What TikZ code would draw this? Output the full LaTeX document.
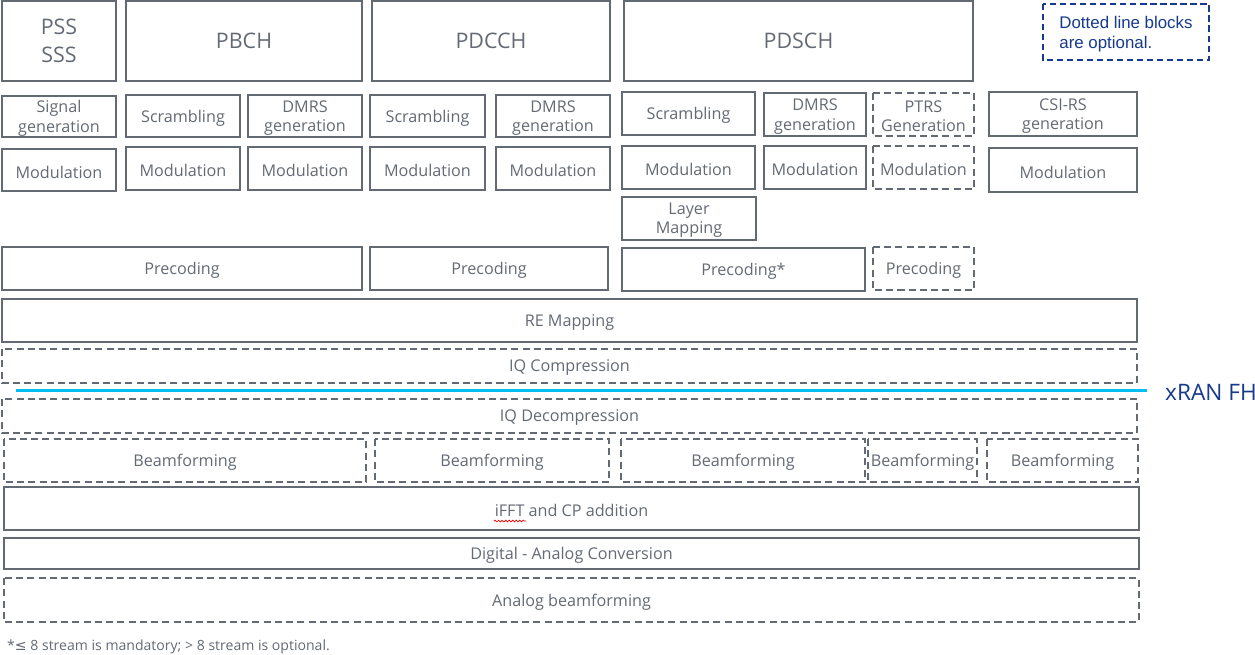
\documentclass[tikz,border=0pt]{standalone}
\usepackage{fontspec}
\setmainfont{Open Sans}
\newfontfamily\legendFont{Liberation Sans}
\newfontfamily\symbolFont{DejaVu Sans}
\usetikzlibrary{decorations.pathmorphing}
\definecolor{blockColor}{RGB}{99,106,116}
\definecolor{legendColor}{RGB}{22,58,140}
\definecolor{fhColor}{RGB}{0,190,240}
\tikzstyle{diagram} = [x = .02cm, y = -.02cm]
\tikzstyle{blockStyle} = [color=blockColor, line width=1.1pt]
\tikzstyle{blockMaybeStyle} = [blockStyle, dash pattern=on 4pt off 2.4pt]
\tikzstyle{blockText} = [text=blockColor, font=\fontsize{9.2}{11}\selectfont, align=center, midway, yshift=-1.1pt]
\tikzstyle{channelText} = [text=blockColor, font=\fontsize{12.2}{16}\selectfont, align=center, midway]
\tikzstyle{legendStyle} = [color=legendColor, line width=1.1pt, dash pattern=on 3.5pt off 2.2pt]
\tikzstyle{legendText} = [text=legendColor, font=\legendFont\fontsize{9.6}{11.3}\selectfont, align=left, midway, yshift=-1.4pt]
\newcommand{\block}[6]{\draw [blockStyle] (#2, #3) rectangle (#4, #5) node [blockText] (#1) {#6};}
\newcommand{\blockMaybe}[6]{\draw [blockMaybeStyle] (#2, #3) rectangle (#4, #5) node [blockText] (#1) {#6};}
\newcommand{\channel}[6]{\draw [blockStyle] (#2, #3) rectangle (#4, #5) node [channelText] (#1) {#6};}

\begin{document}
\begin{tikzpicture}[diagram]
  \useasboundingbox (0, 0) rectangle (1255, 654);
  % channels
  \channel{pss}{2}{1}{116}{81}{PSS\\SSS}
  \channel{pbch}{126}{1}{362}{81}{PBCH}
  \channel{pdcch}{372}{1}{610}{81}{PDCCH}
  \channel{pdsch}{624}{1}{973}{81}{PDSCH}
  \draw [legendStyle] (1043, 4) rectangle (1209, 60) node [legendText] (legend) {Dotted line blocks\\are optional.};

  % generation row
  \block{sigGen}{2}{96}{116}{137}{Signal\\generation}
  \block{pbchScr}{126}{95}{240}{137}{Scrambling}
  \block{pbchDmrs}{248}{95}{362}{137}{DMRS\\generation}
  \block{pdcchScr}{370}{95}{485}{137}{Scrambling}
  \block{pdcchDmrs}{496}{95}{610}{137}{DMRS\\generation}
  \block{pdschScr}{622}{92}{755}{135}{Scrambling}
  \block{pdschDmrs}{764}{93}{866}{136}{DMRS\\generation}
  \blockMaybe{ptrsGen}{873}{93}{974}{136}{PTRS\\Generation}
  \block{csiGen}{989}{92}{1137}{136}{CSI-RS\\generation}

  % modulation row
  \block{pssMod}{2}{149}{116}{191}{Modulation}
  \block{pbchMod}{126}{147}{240}{190}{Modulation}
  \block{pbchDmrsMod}{248}{147}{362}{190}{Modulation}
  \block{pdcchMod}{370}{147}{485}{190}{Modulation}
  \block{pdcchDmrsMod}{496}{147}{610}{190}{Modulation}
  \block{pdschMod}{622}{146}{755}{189}{Modulation}
  \block{pdschDmrsMod}{764}{146}{866}{189}{Modulation}
  \blockMaybe{ptrsMod}{873}{146}{974}{189}{Modulation}
  \block{csiMod}{989}{148}{1137}{192}{Modulation}

  \block{layerMap}{622}{197}{756}{240}{Layer\\Mapping}

  % precoding row
  \block{precA}{2}{247}{362}{290}{Precoding}
  \block{precB}{370}{247}{608}{290}{Precoding}
  \block{precC}{622}{248}{865}{291}{Precoding*}
  \blockMaybe{precD}{873}{247}{974}{290}{Precoding}

  \block{reMap}{2}{299}{1137}{342}{RE Mapping}
  \blockMaybe{iqComp}{2}{349}{1137}{383}{IQ Compression}
  \draw [color=fhColor, line width=1.7pt] (16, 390) -- (1147, 390);
  \node [text=legendColor, font=\fontsize{12.9}{15}\selectfont, anchor=west] (fh) at (1159, 392) {xRAN FH};
  \blockMaybe{iqDecomp}{2}{399}{1137}{433}{IQ Decompression}

  % beamforming row
  \blockMaybe{bfA}{4}{439}{366}{482}{Beamforming}
  \blockMaybe{bfB}{375}{439}{609}{482}{Beamforming}
  \blockMaybe{bfC}{621}{439}{865}{482}{Beamforming}
  \blockMaybe{bfD}{868}{439}{977}{482}{Beamforming}
  \blockMaybe{bfE}{987}{439}{1138}{482}{Beamforming}

  \block{ifft}{4}{487}{1139}{530}{iFFT and CP addition}
  \draw [red, line width=.4pt, decorate, decoration={snake, amplitude=.5pt, segment length=2pt}] (494, 521) -- (526, 521);
  \block{dac}{4}{538}{1139}{569}{Digital - Analog Conversion}
  \blockMaybe{analogBf}{4}{578}{1139}{622}{Analog beamforming}

  \node [text=blockColor, font=\fontsize{8}{10}\selectfont, anchor=west] (note) at (1, 647) {*{\symbolFont ≤} 8 stream is mandatory; > 8 stream is optional.};
\end{tikzpicture}
\end{document}
